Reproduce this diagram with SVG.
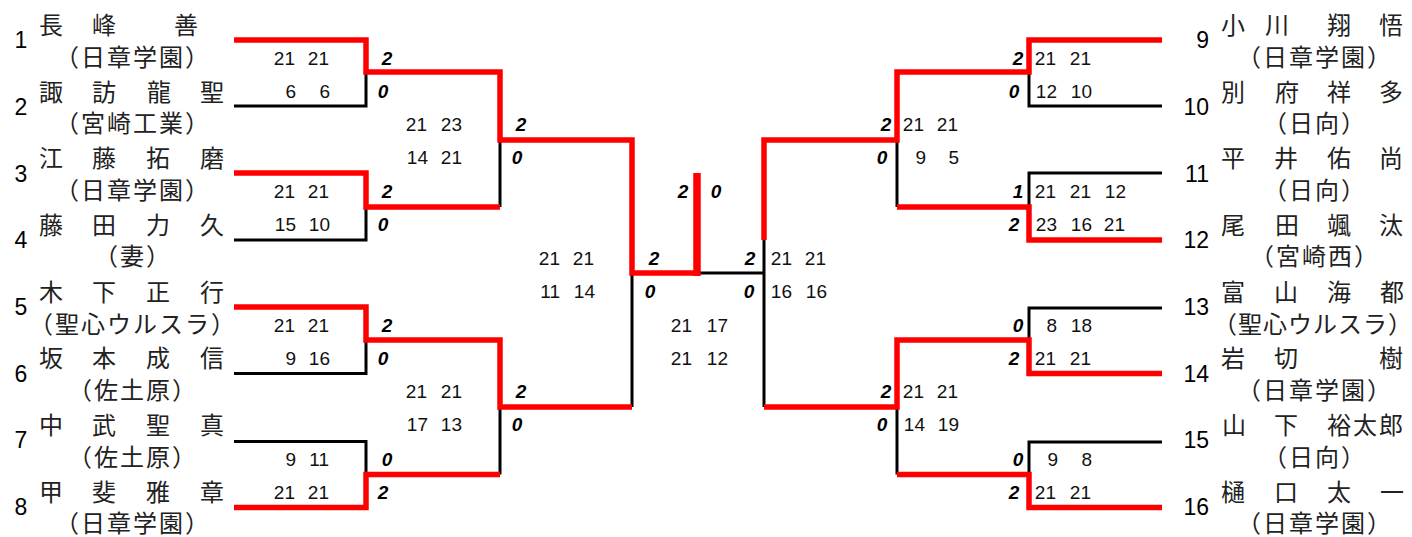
<svg xmlns="http://www.w3.org/2000/svg" width="1412" height="537" viewBox="0 0 1412 537">
<style>
.nm{font-family:"Noto Sans CJK JP","Noto Sans CJK SC",sans-serif;font-size:24px;fill:#222;text-anchor:middle}
.af{font-family:"Noto Sans CJK JP","Noto Sans CJK SC",sans-serif;font-size:24px;fill:#222;text-anchor:middle;letter-spacing:2px}
.no{font-family:"Liberation Sans",Arial,sans-serif;font-size:23px;fill:#000}
.sc{font-family:"Liberation Sans",Arial,sans-serif;font-size:19px;fill:#111;text-anchor:end}
.gc{font-family:"Liberation Sans",Arial,sans-serif;font-size:19px;font-weight:bold;font-style:italic;fill:#000;text-anchor:middle}
.bk{stroke:#000;stroke-width:3;fill:none}
.rd{stroke:#f00;stroke-width:5.5;fill:none}
</style>
<rect width="1412" height="537" fill="#fff"/>

<g id="connectors">
  <path class="bk" d="M234,106 H366 V72"/>
  <path class="bk" d="M234,240 H366 V207"/>
  <path class="bk" d="M234,373.5 H366 V340"/>
  <path class="bk" d="M234,441.5 H366 V474.5"/>
  <path class="bk" d="M500,207 V140"/>
  <path class="bk" d="M500,474.5 V407"/>
  <path class="bk" d="M632,407 V273"/>
  <path class="bk" d="M697,273 H764"/>
  <path class="bk" d="M1162,106 H1029 V72"/>
  <path class="bk" d="M1162,173 H1029 V207"/>
  <path class="bk" d="M1162,308 H1029 V340"/>
  <path class="bk" d="M1162,442 H1029 V474.5"/>
  <path class="bk" d="M897,207 V140"/>
  <path class="bk" d="M897,474.5 V407"/>
  <path class="bk" d="M764,240 V407"/>
  <path class="rd" d="M234,40 H366 V72 H500 V140 H632 V273 H697"/>
  <path class="rd" d="M234,173 H366 V207 H500"/>
  <path class="rd" d="M234,307 H366 V340 H500 V407 H632"/>
  <path class="rd" d="M234,507.5 H366 V474.5 H500"/>
  <path class="rd" d="M697,276 V173" style="stroke-width:7.5"/>
  <path class="rd" d="M1162,40 H1029 V72 H897 V140 H764 V240"/>
  <path class="rd" d="M1162,240 H1029 V207 H897"/>
  <path class="rd" d="M1162,373.5 H1029 V340 H897 V407 H764"/>
  <path class="rd" d="M1162,507.5 H1029 V474.5 H897"/>
</g>

<g id="p1"><text class="no" x="21" y="48" text-anchor="middle">1</text><text class="nm" x="51 104 186" y="34">長峰善</text><text class="af" x="133" y="66">（日章学園）</text></g>
<g id="p2"><text class="no" x="21" y="115" text-anchor="middle">2</text><text class="nm" x="51 104 159 212" y="101">諏訪龍聖</text><text class="af" x="133" y="132">（宮崎工業）</text></g>
<g id="p3"><text class="no" x="21" y="182" text-anchor="middle">3</text><text class="nm" x="51 104 158 212" y="167">江藤拓磨</text><text class="af" x="133" y="199">（日章学園）</text></g>
<g id="p4"><text class="no" x="21" y="248" text-anchor="middle">4</text><text class="nm" x="51 104 158 212" y="234">藤田力久</text><text class="af" x="133" y="265">（妻）</text></g>
<g id="p5"><text class="no" x="21" y="315" text-anchor="middle">5</text><text class="nm" x="51 104 158 212" y="301">木下正行</text><text class="af" x="133" y="333">（聖心ウルスラ）</text></g>
<g id="p6"><text class="no" x="21" y="382" text-anchor="middle">6</text><text class="nm" x="51 104 158 212" y="367">坂本成信</text><text class="af" x="133" y="399">（佐土原）</text></g>
<g id="p7"><text class="no" x="21" y="448" text-anchor="middle">7</text><text class="nm" x="51 104 158 212" y="434">中武聖真</text><text class="af" x="133" y="466">（佐土原）</text></g>
<g id="p8"><text class="no" x="21" y="515" text-anchor="middle">8</text><text class="nm" x="51 104 158 212" y="501">甲斐雅章</text><text class="af" x="133" y="532">（日章学園）</text></g>

<g id="p9"><text class="no" x="1209" y="48" text-anchor="end">9</text><text class="nm" x="1233 1277 1339 1391" y="34">小川翔悟</text><text class="af" x="1315" y="66">（日章学園）</text></g>
<g id="p10"><text class="no" x="1209" y="115" text-anchor="end">10</text><text class="nm" x="1233 1287 1339 1391" y="101">別府祥多</text><text class="af" x="1315" y="132">（日向）</text></g>
<g id="p11"><text class="no" x="1209" y="182" text-anchor="end">11</text><text class="nm" x="1233 1286 1339 1391" y="167">平井佑尚</text><text class="af" x="1315" y="199">（日向）</text></g>
<g id="p12"><text class="no" x="1209" y="248" text-anchor="end">12</text><text class="nm" x="1233 1287 1339 1391" y="234">尾田颯汰</text><text class="af" x="1315" y="265">（宮崎西）</text></g>
<g id="p13"><text class="no" x="1209" y="315" text-anchor="end">13</text><text class="nm" x="1233 1286 1339 1392" y="301">富山海都</text><text class="af" x="1313" y="333" style="letter-spacing:1px">（聖心ウルスラ）</text></g>
<g id="p14"><text class="no" x="1209" y="382" text-anchor="end">14</text><text class="nm" x="1233 1286 1391" y="367">岩切樹</text><text class="af" x="1315" y="399">（日章学園）</text></g>
<g id="p15"><text class="no" x="1209" y="448" text-anchor="end">15</text><text class="nm" x="1234 1286 1339 1365 1391" y="434">山下裕太郎</text><text class="af" x="1315" y="466">（日向）</text></g>
<g id="p16"><text class="no" x="1209" y="515" text-anchor="end">16</text><text class="nm" x="1233 1286 1339 1392" y="501">樋口太一</text><text class="af" x="1315" y="532">（日章学園）</text></g>

<g id="scores">
  <text class="sc" x="295" y="65">21</text><text class="sc" x="329" y="65">21</text>
  <text class="sc" x="296" y="98">6</text><text class="sc" x="330" y="98">6</text>
  <text class="sc" x="295" y="198">21</text><text class="sc" x="329" y="198">21</text>
  <text class="sc" x="296" y="231">15</text><text class="sc" x="330" y="231">10</text>
  <text class="sc" x="295" y="332">21</text><text class="sc" x="329" y="332">21</text>
  <text class="sc" x="296" y="365">9</text><text class="sc" x="330" y="365">16</text>
  <text class="sc" x="296" y="466">9</text><text class="sc" x="329" y="466">11</text>
  <text class="sc" x="295" y="499">21</text><text class="sc" x="329" y="499">21</text>
  <text class="sc" x="427" y="131">21</text><text class="sc" x="462" y="131">23</text>
  <text class="sc" x="428" y="164">14</text><text class="sc" x="462" y="164">21</text>
  <text class="sc" x="427" y="398">21</text><text class="sc" x="462" y="398">21</text>
  <text class="sc" x="428" y="431">17</text><text class="sc" x="462" y="431">13</text>
  <text class="sc" x="560" y="265">21</text><text class="sc" x="594" y="265">21</text>
  <text class="sc" x="560" y="298">11</text><text class="sc" x="595" y="298">14</text>
  <text class="sc" x="692" y="332">21</text><text class="sc" x="728" y="332">17</text>
  <text class="sc" x="692" y="365">21</text><text class="sc" x="728" y="365">12</text>
  <text class="sc" x="792" y="265">21</text><text class="sc" x="826" y="265">21</text>
  <text class="sc" x="792" y="298">16</text><text class="sc" x="827" y="298">16</text>
  <text class="sc" x="924" y="131">21</text><text class="sc" x="958" y="131">21</text>
  <text class="sc" x="926" y="164">9</text><text class="sc" x="959" y="164">5</text>
  <text class="sc" x="924" y="398">21</text><text class="sc" x="958" y="398">21</text>
  <text class="sc" x="925" y="431">14</text><text class="sc" x="959" y="431">19</text>
  <text class="sc" x="1056" y="65">21</text><text class="sc" x="1091" y="65">21</text>
  <text class="sc" x="1057" y="98">12</text><text class="sc" x="1092" y="98">10</text>
  <text class="sc" x="1056" y="198">21</text><text class="sc" x="1091" y="198">21</text><text class="sc" x="1126" y="198">12</text>
  <text class="sc" x="1057" y="231">23</text><text class="sc" x="1092" y="231">16</text><text class="sc" x="1125" y="231">21</text>
  <text class="sc" x="1057" y="332">8</text><text class="sc" x="1092" y="332">18</text>
  <text class="sc" x="1056" y="365">21</text><text class="sc" x="1091" y="365">21</text>
  <text class="sc" x="1058" y="466">9</text><text class="sc" x="1092" y="466">8</text>
  <text class="sc" x="1056" y="499">21</text><text class="sc" x="1091" y="499">21</text>

  <text class="gc" x="387" y="65">2</text><text class="gc" x="383" y="98">0</text>
  <text class="gc" x="387" y="198">2</text><text class="gc" x="383" y="231">0</text>
  <text class="gc" x="387" y="332">2</text><text class="gc" x="383" y="365">0</text>
  <text class="gc" x="387" y="466">0</text><text class="gc" x="383" y="499">2</text>
  <text class="gc" x="521" y="131">2</text><text class="gc" x="517" y="164">0</text>
  <text class="gc" x="521" y="398">2</text><text class="gc" x="517" y="431">0</text>
  <text class="gc" x="654" y="265">2</text><text class="gc" x="650" y="298">0</text>
  <text class="gc" x="683" y="198">2</text><text class="gc" x="716" y="198">0</text>
  <text class="gc" x="750" y="265">2</text><text class="gc" x="749" y="298">0</text>
  <text class="gc" x="886" y="131">2</text><text class="gc" x="882" y="164">0</text>
  <text class="gc" x="886" y="398">2</text><text class="gc" x="882" y="431">0</text>
  <text class="gc" x="1018" y="65">2</text><text class="gc" x="1014" y="98">0</text>
  <text class="gc" x="1018" y="198">1</text><text class="gc" x="1014" y="231">2</text>
  <text class="gc" x="1018" y="332">0</text><text class="gc" x="1014" y="365">2</text>
  <text class="gc" x="1018" y="466">0</text><text class="gc" x="1014" y="499">2</text>
</g>
</svg>
